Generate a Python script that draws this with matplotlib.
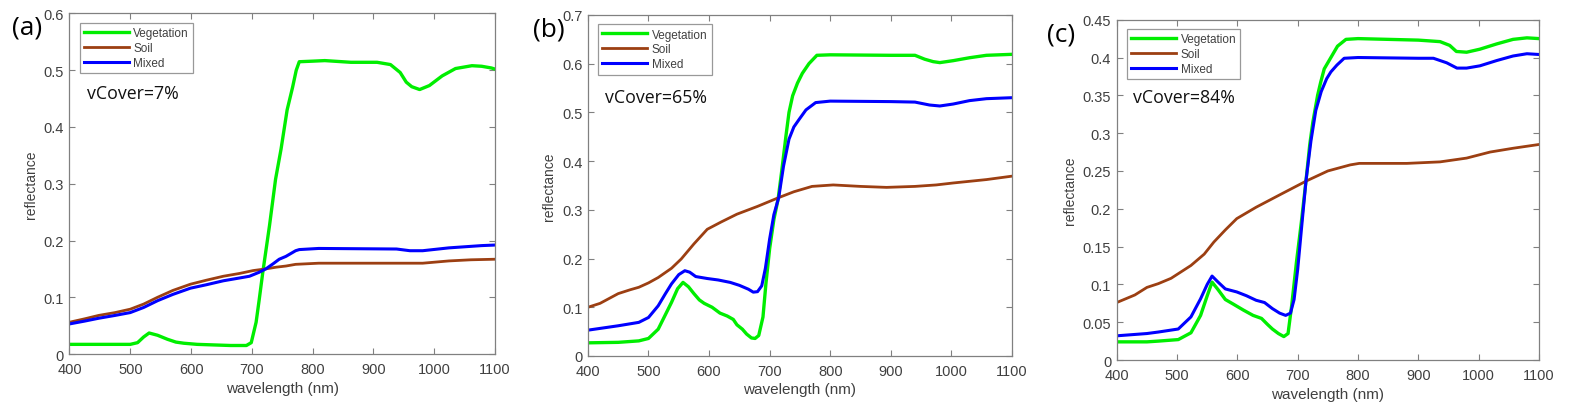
import matplotlib
matplotlib.use("Agg")
import matplotlib.pyplot as plt
import numpy as np

plt.rcParams['font.family'] = ['Liberation Sans', 'DejaVu Sans']

# ---------------- data ----------------
# Panel (a) vCover = 7%
wl_a_veg = [400, 450, 500, 512, 522, 531, 545, 561, 575, 588, 610, 637, 665, 691, 699, 707, 712, 718, 729, 739, 748, 758,
            767, 773, 778, 800, 820, 863, 906, 928, 944, 954, 963, 976, 992, 1013, 1035, 1062, 1078, 1094, 1100]
veg_a = [0.017, 0.017, 0.017, 0.020, 0.030, 0.037, 0.033, 0.026, 0.021, 0.019, 0.017, 0.016, 0.015, 0.015, 0.020, 0.056,
         0.095, 0.144, 0.226, 0.308, 0.361, 0.430, 0.470, 0.500, 0.515, 0.516, 0.517, 0.514, 0.514, 0.510, 0.496, 0.479,
         0.471, 0.466, 0.473, 0.490, 0.503, 0.508, 0.507, 0.504, 0.502]
wl_a_soil = [400, 425, 448, 475, 500, 522, 545, 570, 599, 625, 653, 680, 702, 723, 740, 756, 772, 810, 917, 981, 1024, 1060,
             1100]
soil_a = [0.056, 0.062, 0.068, 0.073, 0.079, 0.088, 0.100, 0.112, 0.123, 0.130, 0.137, 0.142, 0.147, 0.150, 0.153, 0.155,
          0.158, 0.160, 0.160, 0.160, 0.164, 0.166, 0.167]
wl_a_mix = [400, 425, 448, 475, 500, 522, 545, 570, 599, 625, 653, 680, 696, 712, 723, 735, 745, 756, 772, 778, 810, 938,
            960, 981, 1024, 1078, 1100]
mix_a = [0.053, 0.058, 0.063, 0.068, 0.073, 0.082, 0.094, 0.105, 0.116, 0.122, 0.129, 0.134, 0.137, 0.144, 0.150, 0.159,
         0.167, 0.172, 0.182, 0.184, 0.186, 0.185, 0.182, 0.182, 0.187, 0.191, 0.192]

# Panel (b) vCover = 65%
wl_b_veg = [400, 450, 484, 500, 516, 528, 538, 548, 557, 566, 575, 584, 592, 605, 618, 630, 640, 646, 655, 662, 670, 676,
            682, 689, 694, 700, 707, 714, 720, 727, 732, 738, 746, 754, 765, 778, 800, 900, 940, 956, 970, 981, 1003, 1030,
            1058, 1100]
veg_b = [0.027, 0.028, 0.031, 0.036, 0.055, 0.085, 0.110, 0.138, 0.151, 0.142, 0.128, 0.115, 0.108, 0.100, 0.088, 0.082,
         0.075, 0.064, 0.055, 0.045, 0.037, 0.036, 0.042, 0.080, 0.150, 0.220, 0.280, 0.322, 0.380, 0.452, 0.500, 0.534,
         0.560, 0.580, 0.600, 0.617, 0.618, 0.617, 0.617, 0.609, 0.604, 0.602, 0.606, 0.612, 0.617, 0.619]
wl_b_soil = [400, 420, 450, 470, 484, 500, 516, 538, 554, 575, 597, 620, 646, 680, 715, 740, 770, 805, 850, 893, 940, 975,
             1003, 1058, 1100]
soil_b = [0.100, 0.108, 0.128, 0.136, 0.141, 0.150, 0.161, 0.180, 0.199, 0.230, 0.260, 0.275, 0.291, 0.307, 0.325, 0.337,
          0.348, 0.351, 0.348, 0.346, 0.348, 0.351, 0.355, 0.362, 0.369]
wl_b_mix = [400, 450, 484, 500, 516, 528, 538, 550, 560, 568, 578, 597, 615, 635, 650, 665, 673, 680, 687, 693, 700, 707,
            715, 723, 732, 740, 749, 760, 776, 800, 900, 940, 964, 981, 1003, 1030, 1058, 1100]
mix_b = [0.053, 0.062, 0.069, 0.079, 0.103, 0.128, 0.148, 0.167, 0.175, 0.172, 0.163, 0.159, 0.156, 0.151, 0.145, 0.137,
         0.131, 0.132, 0.144, 0.180, 0.240, 0.290, 0.325, 0.390, 0.445, 0.470, 0.486, 0.505, 0.520, 0.523, 0.522, 0.521,
         0.515, 0.513, 0.517, 0.524, 0.528, 0.530]

# Panel (c) vCover = 84%
wl_c_veg = [400, 450, 469, 502, 523, 539, 550, 558, 568, 580, 593, 610, 626, 640, 650, 658, 668, 677, 684, 690, 698, 706,
            714, 720, 725, 733, 738, 744, 755, 766, 780, 800, 900, 936, 952, 963, 980, 1002, 1030, 1057, 1080, 1100]
veg_c = [0.024, 0.024, 0.025, 0.027, 0.036, 0.059, 0.085, 0.103, 0.093, 0.080, 0.074, 0.066, 0.059, 0.055, 0.047, 0.041,
         0.035, 0.031, 0.035, 0.072, 0.130, 0.182, 0.239, 0.285, 0.314, 0.350, 0.367, 0.385, 0.400, 0.415, 0.424, 0.425,
         0.423, 0.421, 0.416, 0.408, 0.407, 0.411, 0.418, 0.424, 0.426, 0.425]
wl_c_soil = [400, 430, 450, 469, 490, 523, 545, 561, 580, 599, 631, 674, 715, 750, 787, 802, 881, 936, 980, 1019, 1057, 1100]
soil_c = [0.076, 0.086, 0.096, 0.101, 0.108, 0.125, 0.140, 0.156, 0.172, 0.187, 0.202, 0.220, 0.237, 0.250, 0.258, 0.260,
          0.260, 0.262, 0.267, 0.275, 0.280, 0.285]
wl_c_mix = [400, 450, 469, 502, 523, 539, 550, 558, 568, 580, 599, 615, 631, 645, 658, 670, 680, 688, 694, 700, 707, 714,
            722, 730, 739, 748, 755, 765, 777, 800, 900, 925, 947, 964, 980, 1002, 1030, 1057, 1080, 1100]
mix_c = [0.032, 0.035, 0.037, 0.041, 0.057, 0.081, 0.100, 0.111, 0.103, 0.094, 0.090, 0.085, 0.079, 0.076, 0.068, 0.062,
         0.059, 0.062, 0.080, 0.120, 0.180, 0.239, 0.290, 0.330, 0.355, 0.372, 0.381, 0.390, 0.399, 0.400, 0.399, 0.399,
         0.393, 0.386, 0.386, 0.389, 0.396, 0.402, 0.405, 0.404]

panel_labels = ["(a)", "(b)", "(c)"]
cover_texts = ["vCover=7%", "vCover=65%", "vCover=84%"]
y_limits = [0.6, 0.7, 0.45]
y_steps = [0.1, 0.1, 0.05]
series_names = ["Vegetation", "Soil", "Mixed"]

# ---------------- style ----------------
GREEN = "#00ee00"
BROWN = "#9c3f12"
BLUE = "#0000ff"
AX_COL = "#808080"
TXT_COL = "#404040"

fig = plt.figure(figsize=(15.72, 4.14), dpi=100)

positions = [
    [0.0442, 0.1425, 0.2707, 0.8225],
    [0.3740, 0.1377, 0.2697, 0.8240],
    [0.7104, 0.1280, 0.2686, 0.8220],
]
cover_pos = [(0.041, 0.766), (0.040, 0.759), (0.039, 0.773)]
label_pos = [(0.0076, 0.962), (0.339, 0.957), (0.666, 0.945)]

panels = [
    ((wl_a_veg, veg_a), (wl_a_soil, soil_a), (wl_a_mix, mix_a)),
    ((wl_b_veg, veg_b), (wl_b_soil, soil_b), (wl_b_mix, mix_b)),
    ((wl_c_veg, veg_c), (wl_c_soil, soil_c), (wl_c_mix, mix_c)),
]

for i, pos in enumerate(positions):
    ax = fig.add_axes(pos)
    (xv, yv), (xs, ys), (xm, ym) = panels[i]
    ax.plot(xv, yv, color=GREEN, lw=2.4, label=series_names[0], solid_joinstyle='round')
    ax.plot(xs, ys, color=BROWN, lw=2.0, label=series_names[1], solid_joinstyle='round')
    ax.plot(xm, ym, color=BLUE, lw=2.2, label=series_names[2], solid_joinstyle='round')
    ax.set_xlim(400, 1100)
    ax.set_ylim(0, y_limits[i])
    ax.set_xticks(np.arange(400, 1101, 100))
    yt = np.round(np.arange(0, y_limits[i] + 1e-9, y_steps[i]), 2)
    ax.set_yticks(yt)
    ax.set_yticklabels([("%g" % v) for v in yt])
    ax.tick_params(direction='in', top=True, right=True, length=4, width=0.8, colors=AX_COL,
                   labelcolor=TXT_COL, labelsize=10.5)
    ax.tick_params(axis='x', pad=6)
    ax.tick_params(axis='y', pad=4)
    for s in ax.spines.values():
        s.set_color(AX_COL)
        s.set_linewidth(0.9)
    ax.set_xlabel("wavelength (nm)", color=TXT_COL, fontsize=11, labelpad=3)
    ax.set_ylabel("reflectance", color=TXT_COL, fontsize=10, labelpad=4)
    leg = ax.legend(loc='upper left', bbox_to_anchor=(0.024, 0.972), fontsize=8.5, frameon=True, fancybox=False,
                    edgecolor=AX_COL, handlelength=3.8, handletextpad=0.4, labelspacing=0.25, borderpad=0.35,
                    borderaxespad=0)
    leg.get_frame().set_linewidth(0.9)
    for t in leg.get_texts():
        t.set_color(TXT_COL)
    ax.text(cover_pos[i][0], cover_pos[i][1], cover_texts[i], transform=ax.transAxes, fontsize=12.8,
            family=['Open Sans', 'DejaVu Sans'], color='#111111', va='center', ha='left')

for lab, (lx, ly) in zip(panel_labels, label_pos):
    fig.text(lx, ly, lab, fontsize=19, family=['Open Sans', 'DejaVu Sans'], va='top', ha='left')

fig.savefig("out.png", dpi=100)
